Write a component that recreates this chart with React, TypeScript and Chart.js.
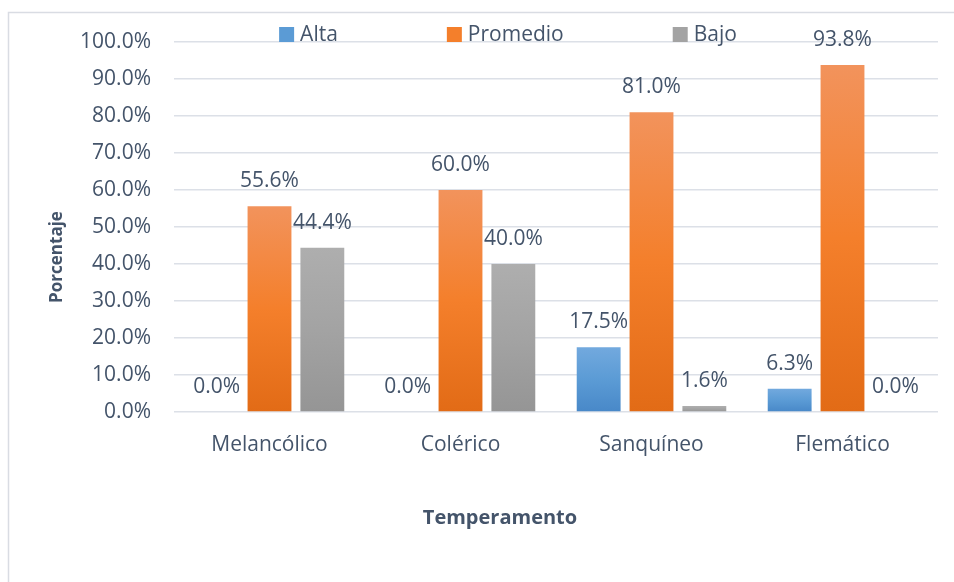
import React, { useEffect, useRef } from "react";
import { Chart, registerables } from "chart.js";

Chart.register(...registerables);

const categories = ["Melancólico", "Colérico", "Sanquíneo", "Flemático"];
const seriesNames = ["Alta", "Promedio", "Bajo"];
const alta = [0.0, 0.0, 17.5, 6.3];
const promedio = [55.6, 60.0, 81.0, 93.8];
const bajo = [44.4, 40.0, 1.6, 0.0];
const yMin = 0;
const yMax = 100;
const yStep = 10;
const xTitle = "Temperamento";
const yTitle = "Porcentaje";

const TEXT = "#44546A";
const GRID = "#DCE0E7";
const FRAME = "#D9DCE3";
const FONT = "'Open Sans', sans-serif";
const FS = 21;

const blueStops = ["#72A9DE", "#5B9BD5", "#4888C8"];
const orangeStops = ["#F2935C", "#F47F2B", "#E26B16"];
const grayStops = ["#AEAEAE", "#A3A3A3", "#959595"];

function gradFill(stops: string[]) {
  return (ctx: any) => {
    const chart = ctx.chart;
    const y = chart.scales && chart.scales.y;
    if (!y || ctx.type !== "data") return stops[1];
    const top = y.getPixelForValue(ctx.raw);
    const bottom = y.getPixelForValue(0);
    if (!isFinite(top) || !isFinite(bottom) || bottom - top < 1) return stops[1];
    const g = chart.ctx.createLinearGradient(0, top, 0, bottom);
    g.addColorStop(0, stops[0]);
    g.addColorStop(0.5, stops[1]);
    g.addColorStop(1, stops[2]);
    return g;
  };
}

const framePlugin = {
  id: "frame",
  beforeDraw(chart: any) {
    const ctx = chart.ctx;
    ctx.save();
    ctx.fillStyle = "#FFFFFF";
    ctx.fillRect(0, 0, chart.width, chart.height);
    ctx.strokeStyle = FRAME;
    ctx.lineWidth = 1.5;
    ctx.beginPath();
    ctx.moveTo(8.5, chart.height);
    ctx.lineTo(8.5, 12.5);
    ctx.lineTo(chart.width, 12.5);
    ctx.stroke();
    ctx.restore();
  },
};

const titlesPlugin = {
  id: "axisTitles",
  afterDraw(chart: any) {
    const ctx = chart.ctx;
    ctx.save();
    ctx.fillStyle = TEXT;
    ctx.textAlign = "center";
    ctx.textBaseline = "middle";
    ctx.font = `bold 20px ${FONT}`;
    ctx.fillText(xTitle, 500, 518);
    ctx.translate(57, 257);
    ctx.rotate(-Math.PI / 2);
    ctx.font = `bold 17px ${FONT}`;
    ctx.fillText(yTitle, 0, 0);
    ctx.restore();
  },
};

const dataLabelPlugin = {
  id: "valueLabels",
  afterDatasetsDraw(chart: any) {
    const ctx = chart.ctx;
    ctx.save();
    ctx.font = `${FS}px ${FONT}`;
    ctx.fillStyle = TEXT;
    ctx.textAlign = "center";
    ctx.textBaseline = "middle";
    chart.data.datasets.forEach((ds: any, i: number) => {
      const meta = chart.getDatasetMeta(i);
      meta.data.forEach((el: any, j: number) => {
        const v = ds.data[j];
        ctx.fillText(v.toFixed(1) + "%", el.x, el.y - 25);
      });
    });
    ctx.restore();
  },
};

const legendPlugin = {
  id: "spreadLegend",
  afterDraw(chart: any) {
    const ctx = chart.ctx;
    ctx.save();
    ctx.font = `${FS}px ${FONT}`;
    ctx.textBaseline = "middle";
    const box = 15;
    const boxGap = 6;
    const gap = 109;
    const items = chart.data.datasets.map((ds: any) => ({
      label: ds.label,
      color: ds.legendColor,
      w: box + boxGap + ctx.measureText(ds.label).width,
    }));
    const total = items.reduce((s: number, it: any) => s + it.w, 0) + gap * (items.length - 1);
    let x = 508 - total / 2;
    const cy = 34;
    items.forEach((it: any) => {
      ctx.fillStyle = it.color;
      ctx.fillRect(x, cy - 7, box, box);
      ctx.fillStyle = TEXT;
      ctx.textAlign = "left";
      ctx.fillText(it.label, x + box + boxGap, cy + 1);
      x += it.w + gap;
    });
    ctx.restore();
  },
};

export default function App() {
  const canvasRef = useRef<HTMLCanvasElement | null>(null);

  useEffect(() => {
    if (!canvasRef.current) return;
    const chart = new Chart(canvasRef.current, {
      type: "bar",
      data: {
        labels: categories,
        datasets: [
          { label: seriesNames[0], data: alta, backgroundColor: gradFill(blueStops), legendColor: blueStops[1] } as any,
          { label: seriesNames[1], data: promedio, backgroundColor: gradFill(orangeStops), legendColor: orangeStops[1] } as any,
          { label: seriesNames[2], data: bajo, backgroundColor: gradFill(grayStops), legendColor: grayStops[1] } as any,
        ],
      },
      options: {
        animation: false,
        responsive: true,
        maintainAspectRatio: false,
        layout: { padding: { left: 0, right: 16, top: 42, bottom: 0 } },
        datasets: { bar: { categoryPercentage: 0.83, barPercentage: 0.83 } },
        plugins: {
          legend: { display: false },
          tooltip: { enabled: false },
        },
        scales: {
          x: {
            grid: { display: false },
            border: { display: false },
            ticks: { color: TEXT, font: { family: FONT, size: FS }, padding: 12 },
            afterFit: (s: any) => {
              s.height = 170;
            },
          },
          y: {
            min: yMin,
            max: yMax,
            grid: { color: GRID, lineWidth: 1.5, drawTicks: false },
            border: { display: false },
            ticks: {
              stepSize: yStep,
              color: TEXT,
              font: { family: FONT, size: FS },
              padding: 23,
              callback: (v: any) => Number(v).toFixed(1) + "%",
            },
            afterFit: (s: any) => {
              s.width = 174;
            },
          },
        },
      } as any,
      plugins: [framePlugin, dataLabelPlugin, legendPlugin, titlesPlugin],
    });
    return () => chart.destroy();
  }, []);

  return (
    <div style={{ position: "fixed", left: 0, top: 0, width: 954, height: 582, background: "#fff" }}>
      <canvas ref={canvasRef} />
    </div>
  );
}
